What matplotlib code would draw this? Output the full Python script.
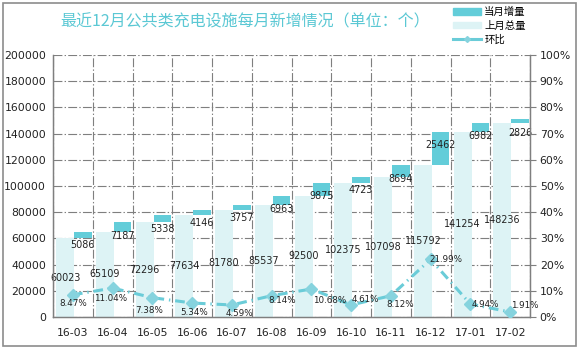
import matplotlib
matplotlib.use('Agg')
from matplotlib import pyplot as plt
from matplotlib.patches import Patch, Rectangle
from matplotlib.lines import Line2D
import numpy as np

plt.rcParams['font.family'] = ['Noto Sans CJK SC', 'DejaVu Sans']
plt.rcParams['lines.scale_dashes'] = False

months = ['16-03', '16-04', '16-05', '16-06', '16-07', '16-08',
          '16-09', '16-10', '16-11', '16-12', '17-01', '17-02']
prev_total = [60023, 65109, 72296, 77634, 81780, 85537,
              92500, 102375, 107098, 115792, 141254, 148236]
month_added = [5086, 7187, 5338, 4146, 3757, 6963,
               9875, 4723, 8694, 25462, 6982, 2826]
ratio_pct = [8.47, 11.04, 7.38, 5.34, 4.59, 8.14,
             10.68, 4.61, 8.12, 21.99, 4.94, 1.91]
# label offsets (pixels) for the percentage labels, they were moved by hand
pct_offsets = [(0, -9), (-2, -10), (-3, -13), (2, -9), (8, -9), (11, -5),
               (18, -11), (14, 5), (9, -9), (15, 0), (15, 0), (15, 6)]

dark = '#63CDD9'
light = '#DDF3F5'
line_col = '#6ACCD8'
grid_col = '#7F7F7F'

fig = plt.figure(figsize=(5.79, 3.49), dpi=100)
ax = fig.add_axes([53/579, 32/349, 477/579, 262/349])
ax2 = ax.twinx()

x = np.arange(len(months))
w_light = 0.45
w_dark = 0.44
x_light = x - 0.42 + w_light/2
x_dark = x + 0.03 + w_dark/2

ax.bar(x_light, prev_total, width=w_light, color=light, zorder=2)
ax.bar(x_dark, month_added, bottom=prev_total, width=w_dark, color=dark, zorder=2)

for xi, v in zip(x_light, prev_total):
    ax.text(xi, v/2, str(v), ha='center', va='center', fontsize=6.9,
            color='#222222', family='DejaVu Sans', zorder=5)
for xi, b, v in zip(x_dark, prev_total, month_added):
    ax.annotate(str(v), (xi, b + v), xytext=(0, -13.5), textcoords='offset pixels',
                ha='center', va='center', fontsize=6.9, color='#222222',
                family='DejaVu Sans', zorder=5)

ln, = ax2.plot(x, ratio_pct, color=line_col, lw=2.2, marker='D', ms=6,
               mfc='#86D3DE', mec='#86D3DE', zorder=4)
ln.set_dashes([7, 3.5, 1, 3.5])
for xi, v, off in zip(x, ratio_pct, pct_offsets):
    ax2.annotate('%.2f%%' % v, (xi, v), xytext=off, textcoords='offset pixels',
                 ha='center', va='center', fontsize=6.3, color='#222222',
                 family='DejaVu Sans', zorder=5)

ax.set_xlim(-0.5, len(months) - 0.5)
ax.set_ylim(0, 200000)
ax.set_yticks(np.arange(0, 200001, 20000))
ax.set_yticklabels([str(t) for t in range(0, 200001, 20000)], family='DejaVu Sans', fontsize=7.8)
ax2.set_ylim(0, 100)
ax2.set_yticks(np.arange(0, 101, 10))
ax2.set_yticklabels(['%d%%' % t for t in range(0, 101, 10)], family='DejaVu Sans', fontsize=7.8)

ax.set_xticks(x)
ax.set_xticklabels(months, family='DejaVu Sans', fontsize=7.8)
ax.set_xticks(np.arange(-0.5, len(months), 1), minor=True)
ax.tick_params(axis='x', which='major', length=0, pad=8)
ax.tick_params(axis='x', which='minor', length=0)
ax.tick_params(axis='y', length=0, pad=5)
ax2.tick_params(axis='y', length=4, color=grid_col, pad=3)

ax.grid(axis='y', which='major', color=grid_col, lw=0.8, linestyle='-.', zorder=0)
ax.grid(axis='x', which='minor', color=grid_col, lw=0.8, linestyle='-.', zorder=0)
ax.set_axisbelow(True)

for a in (ax, ax2):
    a.spines['top'].set_visible(False)
    for s in ('left', 'right', 'bottom'):
        a.spines[s].set_color(grid_col)
        a.spines[s].set_linewidth(0.9)
ax2.tick_params(axis='y', labelcolor='#222222')
ax.tick_params(labelcolor='#222222')

fig.text(0.423, 0.937, '最近12月公共类充电设施每月新增情况（单位：个）', ha='center', va='center',
         fontsize=11.5, color='#5BC8D4')

handles = [Patch(color=dark), Patch(color=light),
           Line2D([0], [0], color=line_col, lw=2.2, marker='D', ms=3, mfc='#86D3DE', mec='#86D3DE')]
fig.legend(handles, ['当月增量', '上月总量', '环比'], loc='upper left',
           bbox_to_anchor=(452/579, 1 - 6/349), frameon=False, fontsize=7.5,
           handlelength=2.7, handleheight=0.55, labelspacing=0.35, handletextpad=0.3,
           borderaxespad=0.0, borderpad=0.1)

fig.patches.append(Rectangle((3/579, 3/349), 573/579, 343/349, transform=fig.transFigure,
                             fill=False, edgecolor='#8C8C8C', lw=1.2))

fig.savefig('out.png', dpi=100)
